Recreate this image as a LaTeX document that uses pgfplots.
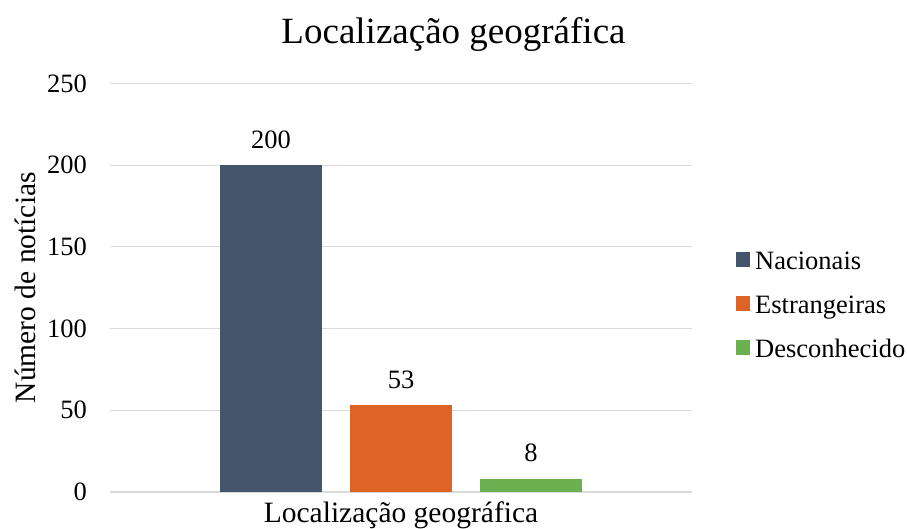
\documentclass[border=0pt]{standalone}
\usepackage{pgfplots}
\pgfplotsset{compat=1.18}
\usepackage{fontspec}
\setmainfont{Liberation Serif}
\definecolor{cNac}{HTML}{44546A}
\definecolor{cEst}{HTML}{DD6327}
\definecolor{cDes}{HTML}{6BB152}
\definecolor{cGrid}{HTML}{D9D9D9}
\begin{document}
\begin{tikzpicture}
\useasboundingbox (0,0) rectangle (907bp,529bp);
\node[anchor=base,font=\fontsize{37bp}{44bp}\selectfont] at (453.5bp,485bp) {Localização geográfica};
\begin{axis}[
  at={(110bp,37bp)}, anchor=south west,
  scale only axis, width=582bp, height=408.5bp,
  xmin=-2.2385, xmax=2.2385, ymin=0, ymax=250,
  ytick={0,50,100,150,200,250}, xtick=\empty,
  /pgf/number format/assume math mode=true,
  ymajorgrids, grid style={cGrid, line width=1.2bp},
  axis line style={draw=none}, major tick length=0pt,
  ybar, bar width=0.777, bar shift=0pt,
  clip=false,
  tick label style={font=\fontsize{26.5bp}{31bp}\selectfont},
  yticklabel style={anchor=east, inner sep=0pt, xshift=-23bp},
  ylabel={Número de notícias},
  ylabel style={at={(axis description cs:0,0.5)}, anchor=center, yshift=85bp, font=\fontsize{29.5bp}{35bp}\selectfont},
  xlabel={Localização geográfica},
  xlabel style={at={(axis description cs:0.5,0)}, anchor=base, yshift=-30bp, inner sep=0pt, font=\fontsize{29.5bp}{35bp}\selectfont},
  nodes near coords,
  every node near coord/.append style={anchor=base, inner sep=0pt, yshift=17bp, font=\fontsize{26.5bp}{31bp}\selectfont, text=black},
  legend cell align=left,
  legend style={at={(axis description cs:1,1)}, anchor=north west, xshift=44bp, yshift=-167.5bp,
    draw=none, fill=none, inner sep=0pt, row sep=20bp, column sep=0pt,
    nodes={inner sep=0pt, text height=18bp, text depth=6bp, font=\fontsize{26.5bp}{31bp}\selectfont},
  },
  legend image code/.code={\fill[#1] (0bp,-4bp) rectangle (14bp,11bp);\path (19bp,0bp);},
]
\addplot[fill=cNac, draw=none] coordinates {(-1,200)};
\addplot[fill=cEst, draw=none] coordinates {(0,53)};
\addplot[fill=cDes, draw=none] coordinates {(1,8)};
\legend{Nacionais, Estrangeiras, Desconhecido}
\end{axis}
\end{tikzpicture}
\end{document}
